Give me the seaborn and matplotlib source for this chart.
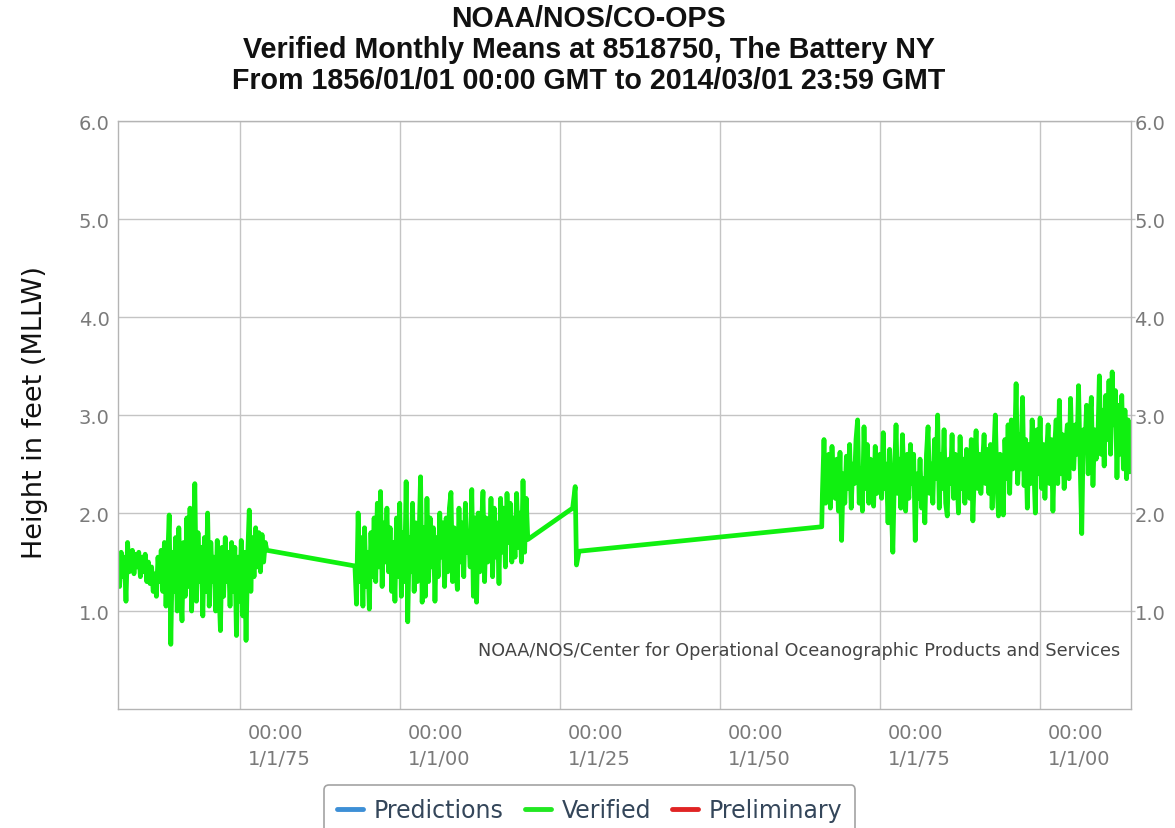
# coding: utf-8

"""
NOAA/NOS/CO-OPS verified monthly means at The Battery, NY (8518750).
Values read off the reference chart, sampled about four times a year.
"""

import numpy as np
import pandas as pd
import seaborn as sns
import matplotlib.pyplot as plt
from matplotlib.lines import Line2D
from matplotlib.transforms import ScaledTranslation

# --- data (height in feet above MLLW) ---------------------------------------
step = 0.25  # quarter-year sampling

seg1_start = 1856.0
seg1_values = [
    1.45, 1.25, 1.60, 1.35, 1.55, 1.10, 1.70, 1.40,
    1.50, 1.62, 1.38, 1.58, 1.45, 1.60, 1.35, 1.55,
    1.40, 1.58, 1.30, 1.50, 1.28, 1.45, 1.20, 1.38,
    1.15, 1.55, 1.30, 1.62, 1.20, 1.70, 1.05, 1.50,
    1.98, 0.66, 1.60, 1.20, 1.75, 1.00, 1.85, 1.30,
    0.90, 1.70, 1.15, 1.95, 1.25, 2.05, 1.00, 1.60,
    2.30, 1.10, 1.80, 1.30, 1.65, 0.95, 1.75, 1.20,
    2.00, 1.05, 1.70, 1.30, 1.55, 1.00, 1.72, 1.25,
    0.80, 1.65, 1.15, 1.75, 1.30, 1.60, 1.05, 1.70,
    1.20, 1.65, 0.75, 1.55, 1.10, 1.72, 0.95, 1.60,
    0.70, 1.55, 2.03, 1.20, 1.75, 1.35, 1.85, 1.45,
    1.80, 1.40, 1.78, 1.50, 1.70, 1.62,
]

seg2_start = 1893.0
seg2_values = [
    1.46, 1.07, 2.00, 1.30, 1.75, 1.05, 1.85, 1.25,
    1.60, 1.02, 1.80, 1.35, 1.95, 1.30, 2.10, 1.45,
    2.22, 1.25, 1.90, 1.50, 2.05, 1.40, 1.85, 1.20,
    1.70, 1.10, 1.95, 1.35, 2.10, 1.15, 1.80, 1.30,
    2.32, 0.89, 1.75, 1.40, 2.10, 1.20, 1.90, 1.30,
    1.70, 2.37, 1.09, 1.85, 1.15, 2.15, 1.30, 1.95,
    1.45, 1.85, 1.10, 1.75, 1.35, 2.00, 1.55, 1.90,
    1.25, 1.95, 1.40, 2.05, 2.21, 1.30, 1.85, 1.45,
    1.22, 2.05, 1.50, 1.90, 1.35, 2.10, 1.60, 1.80,
    1.45, 2.24, 1.15, 1.95, 1.09, 2.00, 1.40, 1.85,
    2.22, 1.30, 1.95, 1.50, 1.60, 2.15, 1.35, 2.05,
    1.55, 1.90, 1.28, 2.15, 1.60, 2.05, 1.45, 2.20,
    1.70, 2.10, 1.50, 1.95, 1.55, 2.20, 1.65, 2.00,
    1.50, 2.33, 1.60, 2.15, 1.73,
]

bridge_years = [1927.0, 1927.4, 1927.6, 1928.0, 1965.9]
bridge_values = [2.05, 2.27, 1.47, 1.61, 1.86]

seg3_start = 1966.0
seg3_values = [
    2.20, 2.75, 2.10, 2.45, 2.60, 2.05, 2.68, 2.30,
    2.15, 2.55, 2.02, 2.62, 1.72, 2.40, 2.10, 2.58,
    2.25, 2.70, 2.05, 2.50, 2.30, 2.75, 2.95, 2.10,
    2.45, 2.02, 2.88, 2.25, 2.70, 2.10, 2.55, 2.30,
    2.07, 2.68, 2.20, 2.45, 2.60, 2.15, 2.82, 2.25,
    2.50, 1.90, 2.65, 2.10, 1.60, 2.40, 2.90, 2.20,
    2.55, 2.05, 2.80, 2.30, 2.02, 2.60, 2.15, 2.70,
    2.30, 2.60, 1.72, 2.40, 2.15, 2.55, 2.05, 2.35,
    1.90, 2.60, 2.88, 2.20, 2.50, 2.10, 2.75, 2.35,
    3.00, 2.05, 2.60, 2.25, 2.85, 2.10, 1.97, 2.55,
    2.30, 2.80, 2.15, 2.60, 2.40, 2.00, 2.78, 2.25,
    2.55, 2.10, 2.65, 2.35, 2.15, 2.75, 1.92, 2.45,
    2.84, 2.25, 2.60, 2.20, 2.50, 2.80, 2.30, 2.65,
    2.20, 2.70, 2.05, 2.55, 3.00, 2.30, 1.97, 2.60,
    2.40, 1.98, 2.75, 2.35, 2.90, 2.20, 2.95, 2.45,
    2.60, 3.32, 2.30, 2.80, 2.45, 3.18, 2.28, 2.75,
    2.05, 2.70, 2.30, 2.95, 2.50, 2.00, 2.85, 2.40,
    2.97, 2.25, 2.70, 2.15, 2.60, 2.90, 2.30, 2.75,
    2.02, 2.65, 2.95, 2.30, 3.15, 2.40, 2.80, 2.25,
    2.70, 2.90, 2.35, 3.17, 2.55, 2.45, 2.90, 2.60,
    3.30, 2.50, 1.79, 2.85, 2.65, 3.10, 2.40, 2.95,
    3.18, 2.28, 2.85, 2.55, 2.70, 3.40, 2.60, 3.05,
    2.48, 3.20, 2.75, 3.35, 2.60, 3.44, 2.90, 3.25,
    2.36, 3.10, 2.60, 3.20, 2.45, 3.05, 2.35, 2.95,
    2.42,
]

tick_years = [1875, 1900, 1925, 1950, 1975, 2000]
tick_labels = ["00:00\n1/1/75", "00:00\n1/1/00", "00:00\n1/1/25",
               "00:00\n1/1/50", "00:00\n1/1/75", "00:00\n1/1/00"]
y_ticks = [1.0, 2.0, 3.0, 4.0, 5.0, 6.0]

legend_names = ["Predictions", "Verified", "Preliminary"]
legend_colors = ["#3d8fd6", "#22e822", "#e02424"]

# --- build table ---------------------------------------------------------------
def quarterly(start, values):
    return start + step * np.arange(len(values))

years = np.concatenate([quarterly(seg1_start, seg1_values),
                        quarterly(seg2_start, seg2_values),
                        bridge_years,
                        quarterly(seg3_start, seg3_values)])
heights = np.concatenate([seg1_values, seg2_values, bridge_values, seg3_values])
df = pd.DataFrame({"year": years, "height": heights})

# --- plot --------------------------------------------------------------------------
sns.set_style("white")
plt.rcParams["font.family"] = ["DejaVu Sans"]

fig, ax = plt.subplots(figsize=(11.75, 8.29), dpi=100)
fig.subplots_adjust(left=0.1004, right=0.9626, top=0.8528, bottom=0.1435)

sns.lineplot(data=df, x="year", y="height", ax=ax, color="#10f010",
             linewidth=3.4, estimator=None, sort=False)

ax.set_xlim(1856.0, 2014.2)
ax.set_ylim(0, 6)
ax.set_xlabel("")
ax.set_ylabel("")

grid_c = "#c4c4c4"
ax.set_xticks(tick_years)
ax.set_xticklabels(tick_labels, ha="left", linespacing=1.45)
ax.set_yticks(y_ticks)
ax.set_yticklabels([f"{v:.1f}" for v in y_ticks])
ax.grid(True, color=grid_c, linewidth=1.0)
ax.set_axisbelow(True)

for sp in ax.spines.values():
    sp.set_color("#b4b4b4")
    sp.set_linewidth(1.0)

ax.tick_params(axis="x", length=9, width=1, color=grid_c, pad=1,
               labelsize=14, labelcolor="#7a7a7a")
ax.tick_params(axis="y", length=3, width=1, color=grid_c, pad=3,
               labelsize=14, labelcolor="#7a7a7a",
               right=True, labelright=True)

# shift x tick labels a little to the right of their tick
offset = ScaledTranslation(8 / 100, 0, fig.dpi_scale_trans)
for lab in ax.get_xticklabels():
    lab.set_transform(lab.get_transform() + offset)

# right-hand labels sit right next to the frame
shift_left = ScaledTranslation(-5 / 100, 0, fig.dpi_scale_trans)
for t in ax.yaxis.get_major_ticks():
    t.label2.set_horizontalalignment("left")
    t.label2.set_transform(t.label2.get_transform() + shift_left)

# title
title_lines = ["NOAA/NOS/CO-OPS",
               "Verified Monthly Means at 8518750, The Battery NY",
               "From 1856/01/01 00:00 GMT to 2014/03/01 23:59 GMT"]
for txt, yy in zip(title_lines, [0.977, 0.940, 0.902]):
    fig.text(0.501, yy, txt, ha="center", va="center", fontsize=20.6,
             fontweight="bold", color="#111111",
             family=["Liberation Sans", "DejaVu Sans"])

fig.text(0.030, 0.503, "Height in feet (MLLW)", rotation=90, ha="center",
         va="center", fontsize=19.5, color="#111111")

ax.text(0.989, 0.100,
        "NOAA/NOS/Center for Operational Oceanographic Products and Services",
        transform=ax.transAxes, ha="right", va="center", fontsize=12.7,
        color="#444444")

handles = [Line2D([0], [0], color=c, linewidth=3.5) for c in legend_colors]
leg = fig.legend(handles, legend_names, loc="upper center",
                 bbox_to_anchor=(0.502, 0.066), bbox_transform=fig.transFigure,
                 ncol=3, fontsize=17, frameon=True, fancybox=True,
                 handlelength=1.1, handletextpad=0.45, columnspacing=0.9,
                 borderpad=0.55, labelcolor="#34465a")
leg.get_frame().set_edgecolor("#8c8c8c")
leg.get_frame().set_linewidth(1.2)

fig.savefig("out.png", dpi=100)
